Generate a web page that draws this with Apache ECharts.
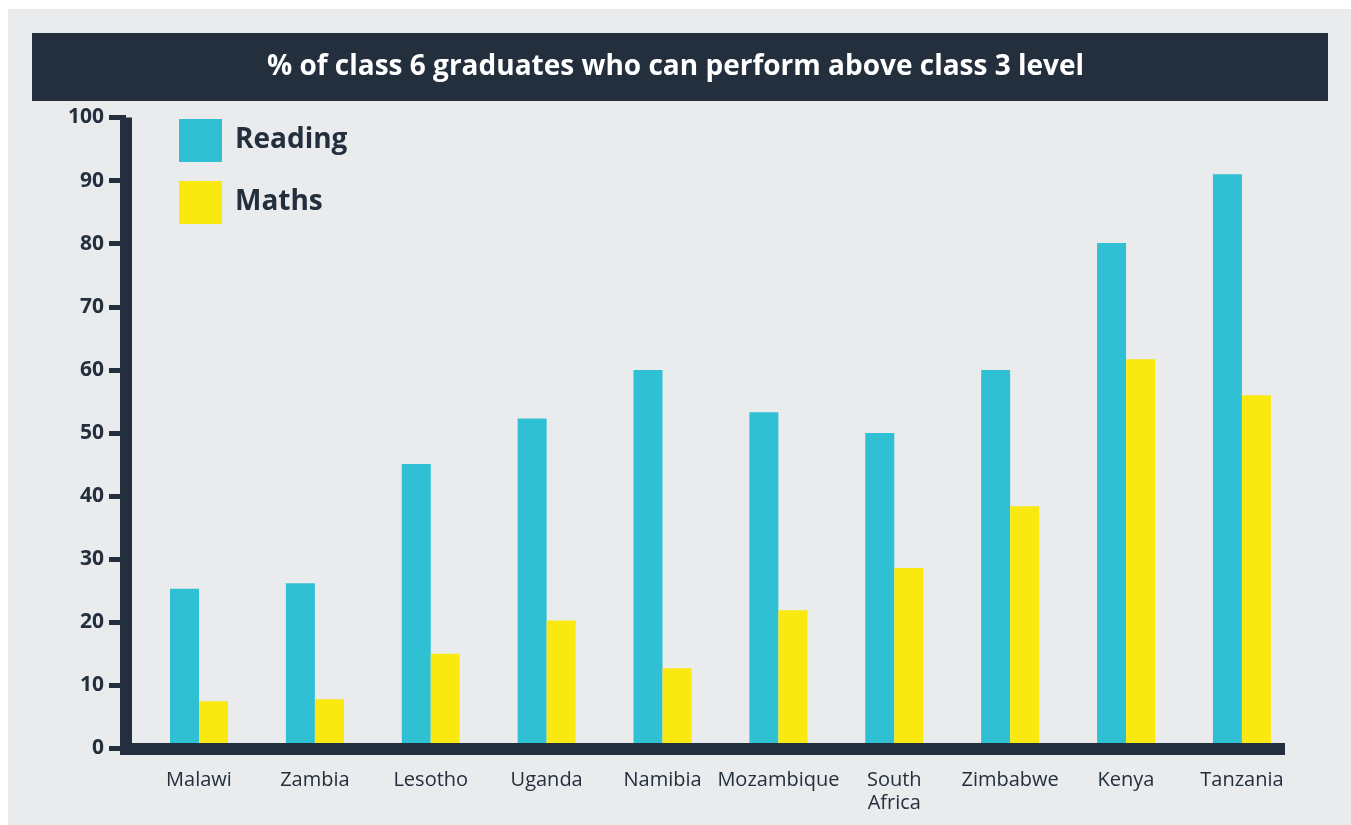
<!DOCTYPE html>
<html>
<head>
<meta charset="utf-8">
<script src="https://cdn.jsdelivr.net/npm/echarts@6/dist/echarts.min.js"></script>
<style>
html,body{margin:0;padding:0;background:#ffffff;}
#chart{width:1351px;height:825px;}
</style>
</head>
<body>
<div id="chart"></div>
<script>
const titleText = '% of class 6 graduates who can perform above class 3 level';
const categories = ['Malawi', 'Zambia', 'Lesotho', 'Uganda', 'Namibia', 'Mozambique', 'South\nAfrica', 'Zimbabwe', 'Kenya', 'Tanzania'];
const readingValues = [25.3, 26.2, 45.1, 52.3, 60.0, 53.3, 50.0, 60.0, 80.1, 91.0];
const mathsValues = [7.5, 7.8, 15.0, 20.3, 12.7, 21.9, 28.6, 38.4, 61.7, 56.0];
const yTicks = [0, 10, 20, 30, 40, 50, 60, 70, 80, 90, 100];

const dark = '#232f3d';
const font = 'Open Sans';

const chart = echarts.init(document.getElementById('chart'), null, {renderer: 'canvas'});
const idx = categories.map((c, i) => i);

chart.setOption({
  backgroundColor: '#eaebed',
  animation: false,
  textStyle: {fontFamily: font},
  graphic: [
    {type: 'rect', shape: {x: 0, y: 0, width: 1351, height: 9}, style: {fill: '#ffffff'}, z: 1, silent: true},
    {type: 'rect', shape: {x: 0, y: 0, width: 8, height: 825}, style: {fill: '#ffffff'}, z: 1, silent: true},
    {type: 'rect', shape: {x: 32, y: 33, width: 1296, height: 68}, style: {fill: dark}, z: 1, silent: true}
  ],
  title: {
    text: titleText,
    left: 'center',
    top: 50,
    padding: 0,
    z: 10,
    textStyle: {color: '#ffffff', fontSize: 28, fontWeight: 'bold', fontFamily: font, lineHeight: 34}
  },
  legend: {
    orient: 'vertical',
    left: 179,
    top: 119,
    padding: 0,
    itemWidth: 43,
    itemHeight: 43,
    itemGap: 19,
    icon: 'rect',
    data: ['Reading', 'Maths'],
    textStyle: {color: dark, fontSize: 28, fontWeight: 'bold', fontFamily: font, padding: [0, 0, 4, 8]}
  },
  grid: {left: 126, right: 72, top: 117.5, bottom: 76.5, containLabel: false, outerBoundsMode: 'none'},
  xAxis: {
    type: 'value',
    min: -0.63,
    max: 9.32,
    z: 5,
    splitLine: {show: false},
    axisTick: {show: false},
    axisLine: {show: true, onZero: false, lineStyle: {color: dark, width: 12, cap: 'square'}},
    axisLabel: {
      customValues: idx,
      margin: 20,
      color: dark,
      fontSize: 20,
      lineHeight: 23,
      fontFamily: font,
      formatter: v => categories[Math.round(v)] || ''
    }
  },
  yAxis: {
    type: 'value',
    min: 0,
    max: 100,
    interval: 10,
    z: 5,
    splitLine: {show: false},
    axisLine: {show: true, onZero: false, lineStyle: {color: dark, width: 12, cap: 'butt'}},
    axisTick: {show: true, length: 17, lineStyle: {color: dark, width: 5, cap: 'butt'}},
    axisLabel: {
      margin: 22,
      color: dark,
      fontSize: 21,
      fontWeight: 'bold',
      fontFamily: font,
      formatter: v => yTicks.includes(v) ? String(v) : ''
    }
  },
  series: [
    {
      name: 'Reading',
      type: 'bar',
      barWidth: 29,
      barGap: '0%',
      itemStyle: {color: '#2fc0d4'},
      data: readingValues.map((v, i) => [i, v])
    },
    {
      name: 'Maths',
      type: 'bar',
      barWidth: 29,
      barGap: '0%',
      itemStyle: {color: '#f9e910'},
      data: mathsValues.map((v, i) => [i, v])
    }
  ]
});
</script>
</body>
</html>
